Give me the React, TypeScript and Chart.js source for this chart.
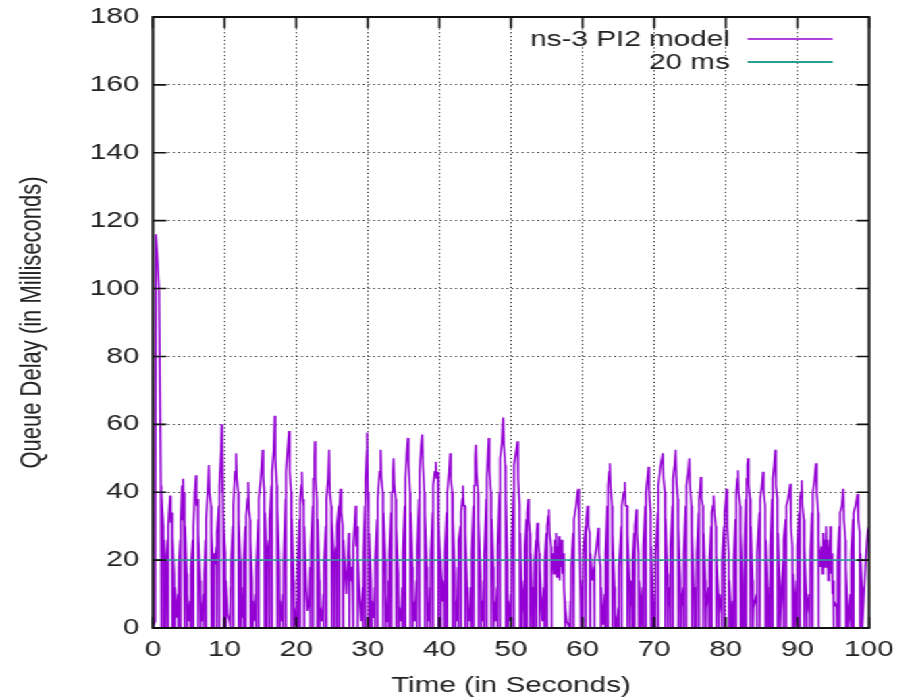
import React, { useEffect, useRef } from 'react';
import { Chart, registerables } from 'chart.js';

Chart.register(...registerables);

// ---- labels / ticks ----
const X_TITLE = 'Time (in Seconds)';
const Y_TITLE = 'Queue Delay (in Milliseconds)';
const SERIES_LABEL = 'ns-3 PI2 model';
const TARGET_LABEL = '20 ms';
const TARGET_VALUE = 20;
const X_TICKS = [0, 10, 20, 30, 40, 50, 60, 70, 80, 90, 100];
const Y_TICKS = [0, 20, 40, 60, 80, 100, 120, 140, 160, 180];

// ---- queue delay samples [time s, delay ms] ----
const seg00: [number, number][] = [
  [0, 0], [0.3, 2], [0.4, 116], [0.6, 110], [0.85, 100], [1.1, 42], [1.15, 0], [1.2, 40], [1.45, 30], [1.5, 0], [1.55, 26], [1.75, 16], [1.8, 0], [1.85, 18],
  [2.05, 26], [2.1, 0], [2.15, 30], [2.3, 36], [2.4, 39], [2.5, 31], [2.65, 34], [2.7, 0], [2.75, 27], [2.95, 16], [3.0, 0], [3.05, 12], [3.3, 3],
  [3.5, 10], [3.55, 0], [3.6, 18], [3.8, 26], [3.85, 0], [3.9, 32], [4.05, 42], [4.15, 32], [4.2, 44], [4.3, 31], [4.4, 40], [4.45, 0], [4.5, 30], [4.7, 16], [4.75, 0], [4.8, 10], [5.0, 2],
  [5.2, 8], [5.25, 0], [5.3, 18], [5.55, 26], [5.6, 0], [5.65, 30], [5.85, 40], [6.0, 45], [6.1, 36], [6.25, 38], [6.3, 0], [6.35, 28], [6.6, 14], [6.65, 0], [6.7, 8], [6.9, 2],
  [7.05, 10], [7.1, 0], [7.15, 16], [7.35, 26], [7.4, 0], [7.45, 32], [7.65, 41], [7.8, 48], [7.9, 40], [8.1, 36], [8.15, 0], [8.2, 28], [8.4, 18], [8.45, 0], [8.5, 22], [8.7, 20],
  [8.85, 24], [8.9, 0], [8.95, 28], [9.2, 36], [9.25, 0], [9.3, 42], [9.5, 52], [9.6, 60], [9.65, 40], [9.7, 55], [9.8, 32], [9.85, 0], [9.9, 30], [10.1, 22], [10.15, 0], [10.2, 14], [10.45, 4],
];
const seg10: [number, number][] = [
  [10.7, 2], [10.8, 12], [10.85, 0], [10.9, 20], [11.15, 30], [11.2, 0], [11.25, 36], [11.45, 46], [11.6, 51.5], [11.7, 44], [11.9, 40], [11.95, 0], [12.0, 32], [12.2, 20], [12.25, 0], [12.3, 10], [12.5, 3],
  [12.6, 12], [12.65, 0], [12.7, 20], [12.9, 30], [12.95, 0], [13.0, 33], [13.2, 38], [13.3, 43], [13.4, 35], [13.55, 32], [13.6, 0], [13.65, 26], [13.85, 14], [13.9, 0], [13.95, 8], [14.1, 2],
  [14.35, 10], [14.4, 0], [14.45, 18], [14.7, 32], [14.75, 0], [14.8, 38], [15.05, 44], [15.3, 52.5], [15.4, 45], [15.55, 40], [15.6, 0], [15.65, 34], [15.85, 22], [15.9, 0], [15.95, 20],
  [16.2, 26], [16.25, 0], [16.3, 32], [16.55, 42], [16.6, 0], [16.65, 46], [16.85, 52], [17.0, 62.5], [17.1, 50], [17.3, 42], [17.35, 0], [17.4, 36], [17.65, 18], [17.7, 0], [17.75, 8], [17.95, 2],
  [18.15, 10], [18.2, 0], [18.25, 20], [18.5, 38], [18.55, 0], [18.6, 46], [18.85, 54], [19.0, 58], [19.1, 46], [19.3, 40], [19.35, 0], [19.4, 32], [19.65, 14], [19.7, 0], [19.75, 6], [19.95, 1],
];
const seg20: [number, number][] = [
  [20.1, 8], [20.15, 0], [20.2, 18], [20.45, 32], [20.5, 0], [20.55, 38], [20.7, 42], [20.8, 46], [20.9, 38], [21.05, 36], [21.1, 0], [21.15, 30], [21.4, 12], [21.6, 5], [21.8, 8],
  [21.95, 18], [22.0, 0], [22.05, 24], [22.3, 36], [22.35, 0], [22.4, 44], [22.55, 50], [22.6, 55], [22.7, 44], [22.9, 38], [22.95, 0], [23.0, 32], [23.25, 14], [23.3, 0], [23.35, 6], [23.6, 2],
  [23.8, 10], [23.85, 0], [23.9, 20], [24.15, 30], [24.2, 0], [24.25, 38], [24.45, 44], [24.6, 52.5], [24.7, 40], [24.9, 36], [24.95, 0], [25.0, 32], [25.25, 22], [25.3, 0], [25.35, 18],
  [25.6, 24], [25.65, 0], [25.7, 30], [25.95, 36], [26.0, 0], [26.05, 36], [26.2, 41], [26.3, 34], [26.5, 30], [26.55, 0], [26.6, 26], [26.8, 18], [27.0, 10], [27.1, 15],
  [27.35, 28], [27.4, 0], [27.45, 22], [27.7, 14], [27.8, 18], [27.9, 10], [27.95, 0], [28.0, 24], [28.2, 32], [28.3, 36], [28.4, 24], [28.55, 30], [28.6, 0], [28.65, 20], [28.9, 8], [29.1, 2],
  [29.3, 12], [29.35, 0], [29.4, 22], [29.6, 36], [29.65, 0], [29.7, 44], [29.85, 52], [29.9, 57.5], [30.0, 40], [30.1, 34], [30.15, 0], [30.2, 28], [30.45, 14], [30.5, 0], [30.55, 8],
];
const seg30: [number, number][] = [
  [30.8, 3], [30.95, 12], [31.0, 0], [31.05, 20], [31.3, 32], [31.35, 0], [31.4, 38], [31.65, 46], [31.8, 52.5], [31.9, 44], [32.1, 40], [32.15, 0], [32.2, 34], [32.45, 20], [32.5, 0], [32.55, 10], [32.75, 2],
  [32.9, 14], [32.95, 0], [33.0, 22], [33.25, 34], [33.3, 0], [33.35, 40], [33.5, 46], [33.6, 50], [33.7, 42], [33.9, 38], [33.95, 0], [34.0, 30], [34.25, 16], [34.3, 0], [34.35, 6], [34.6, 2],
  [34.8, 12], [34.85, 0], [34.9, 22], [35.15, 36], [35.2, 0], [35.25, 44], [35.45, 52], [35.6, 56], [35.7, 48], [35.9, 40], [35.95, 0], [36.0, 34], [36.25, 18], [36.3, 0], [36.35, 8], [36.55, 2],
  [36.8, 14], [36.85, 0], [36.9, 24], [37.15, 38], [37.2, 0], [37.25, 46], [37.45, 54], [37.6, 57], [37.7, 48], [37.9, 40], [37.95, 0], [38.0, 34], [38.25, 18], [38.3, 0], [38.35, 8], [38.55, 2],
  [38.7, 12], [38.75, 0], [38.8, 22], [39.05, 34], [39.1, 0], [39.15, 42], [39.35, 46], [39.5, 49], [39.6, 44], [39.8, 46], [39.85, 0], [39.9, 32], [40.15, 20], [40.2, 0], [40.25, 18],
];
const seg40: [number, number][] = [
  [40.5, 8], [40.65, 14], [40.7, 0], [40.75, 22], [41.0, 34], [41.05, 0], [41.1, 40], [41.35, 46], [41.5, 51.5], [41.6, 44], [41.8, 40], [41.85, 0], [41.9, 32], [42.15, 16], [42.2, 0], [42.25, 8], [42.45, 2],
  [42.6, 18], [42.65, 0], [42.7, 26], [42.95, 30], [43.0, 0], [43.05, 34], [43.2, 38], [43.3, 42], [43.4, 36], [43.55, 36], [43.6, 0], [43.65, 28], [43.9, 12], [43.95, 0], [44.0, 6], [44.2, 2],
  [44.4, 12], [44.45, 0], [44.5, 22], [44.75, 36], [44.8, 0], [44.85, 42], [45.0, 50], [45.1, 54], [45.2, 46], [45.4, 40], [45.45, 0], [45.5, 32], [45.75, 16], [45.8, 0], [45.85, 8], [46.05, 2],
  [46.2, 14], [46.25, 0], [46.3, 22], [46.55, 38], [46.6, 0], [46.65, 44], [46.8, 52], [46.9, 56], [47.0, 46], [47.2, 40], [47.25, 0], [47.3, 32], [47.55, 18], [47.6, 0], [47.65, 8], [47.85, 2],
  [48.05, 12], [48.1, 0], [48.15, 24], [48.4, 40], [48.45, 0], [48.5, 50], [48.7, 54], [48.9, 62], [49.0, 54], [49.2, 48], [49.25, 0], [49.3, 40], [49.5, 20], [49.55, 0], [49.6, 8], [49.8, 2],
];
const seg50: [number, number][] = [
  [50.0, 10], [50.05, 0], [50.1, 24], [50.35, 40], [50.4, 0], [50.45, 48], [50.7, 52], [50.9, 55], [51.0, 44], [51.2, 36], [51.25, 0], [51.3, 28], [51.5, 10], [51.55, 0], [51.6, 4],
  [51.85, 14], [51.9, 0], [51.95, 24], [52.15, 32], [52.2, 0], [52.25, 34], [52.4, 38], [52.5, 32], [52.65, 28], [52.7, 0], [52.75, 22], [52.95, 10], [53.0, 0], [53.05, 4],
  [53.2, 12], [53.25, 0], [53.3, 20], [53.5, 26], [53.55, 0], [53.6, 28], [53.7, 31], [53.8, 26], [53.95, 22], [54.0, 0], [54.05, 18], [54.25, 8], [54.4, 2],
  [54.6, 12], [54.65, 0], [54.7, 20], [54.95, 28], [55.0, 0], [55.05, 30], [55.2, 33], [55.3, 35], [55.4, 28], [55.6, 24], [55.65, 0], [55.7, 18], [55.85, 22],
  [56.0, 16], [56.1, 26], [56.2, 18], [56.3, 28], [56.4, 15], [56.5, 24], [56.6, 17], [56.7, 27], [56.8, 14], [56.9, 25], [57.0, 18], [57.1, 26], [57.2, 16], [57.3, 22], [57.4, 12], [57.5, 8], [57.55, 0], [57.6, 6], [57.8, 2],
  [58.2, 0], [58.3, 8], [58.35, 0], [58.4, 18], [58.7, 28], [58.75, 0], [58.8, 32], [59.1, 36], [59.3, 40], [59.4, 41], [59.5, 32], [59.7, 10], [59.75, 0], [59.8, 2],
];
const seg60: [number, number][] = [
  [60.0, 14], [60.05, 0], [60.1, 22], [60.4, 30], [60.45, 0], [60.5, 32], [60.7, 36], [60.8, 30], [61.0, 28], [61.05, 0], [61.1, 22], [61.35, 14],
  [61.6, 18], [61.65, 0], [61.7, 20], [61.95, 24], [62.2, 29.5], [62.3, 22], [62.5, 18], [62.55, 0], [62.6, 12], [62.8, 4], [62.9, 1],
  [63.1, 10], [63.15, 0], [63.2, 22], [63.45, 36], [63.5, 0], [63.55, 42], [63.7, 46], [63.8, 48.5], [63.9, 42], [64.1, 36], [64.15, 0], [64.2, 28], [64.45, 12], [64.5, 0], [64.55, 4], [64.75, 0],
  [65.0, 6], [65.05, 0], [65.1, 18], [65.4, 30], [65.45, 0], [65.5, 36], [65.75, 40], [65.9, 43], [66.0, 36], [66.2, 36], [66.25, 0], [66.3, 28], [66.55, 14], [66.6, 0], [66.65, 6],
  [66.9, 14], [66.95, 0], [67.0, 20], [67.2, 28], [67.25, 0], [67.3, 30], [67.5, 35], [67.6, 28], [67.8, 22], [67.85, 0], [67.9, 14], [68.1, 8], [68.15, 0],
  [68.4, 12], [68.45, 0], [68.5, 24], [68.75, 36], [68.8, 0], [68.85, 40], [69.05, 44], [69.2, 47.5], [69.3, 40], [69.5, 34], [69.55, 0], [69.6, 24], [69.8, 10], [69.85, 0], [69.9, 4],
];
const seg70: [number, number][] = [
  [70.1, 8], [70.15, 0], [70.2, 22], [70.5, 34], [70.55, 0], [70.6, 42], [70.9, 48], [71.2, 51.5], [71.3, 44], [71.5, 40], [71.55, 0], [71.6, 32], [71.85, 16], [71.9, 0], [71.95, 6],
  [72.2, 12], [72.25, 0], [72.3, 24], [72.55, 36], [72.6, 0], [72.65, 44], [72.85, 48], [73.0, 52.5], [73.1, 44], [73.3, 38], [73.35, 0], [73.4, 30], [73.65, 14], [73.7, 0], [73.75, 6],
  [74.05, 12], [74.1, 0], [74.15, 22], [74.4, 36], [74.45, 0], [74.5, 42], [74.75, 46], [74.9, 50], [75.0, 42], [75.2, 36], [75.25, 0], [75.3, 28], [75.55, 12], [75.6, 0], [75.65, 4],
  [75.85, 12], [75.9, 0], [75.95, 22], [76.2, 34], [76.25, 0], [76.3, 38], [76.45, 42], [76.5, 44.5], [76.6, 38], [76.8, 36], [76.85, 0], [76.9, 28], [77.15, 14], [77.2, 0], [77.25, 6],
  [77.6, 12], [77.65, 0], [77.7, 20], [77.95, 30], [78.0, 0], [78.05, 34], [78.2, 36], [78.3, 39], [78.4, 34], [78.6, 30], [78.65, 0], [78.7, 22], [78.95, 10], [79.0, 0], [79.05, 4],
  [79.4, 10], [79.45, 0], [79.5, 20], [79.75, 30], [79.8, 0], [79.85, 34], [80.0, 38], [80.1, 41], [80.2, 30], [80.4, 22], [80.45, 0], [80.5, 14], [80.7, 6], [80.75, 0],
];
const seg80: [number, number][] = [
  [81.0, 8], [81.05, 0], [81.1, 20], [81.35, 32], [81.4, 0], [81.45, 40], [81.6, 44], [81.7, 46.5], [81.8, 40], [82.0, 36], [82.05, 0], [82.1, 28], [82.3, 14], [82.35, 0],
  [82.5, 10], [82.55, 0], [82.6, 24], [82.8, 38], [82.85, 0], [82.9, 44], [83.0, 48], [83.1, 50], [83.2, 42], [83.4, 38], [83.45, 0], [83.5, 30], [83.75, 14], [83.8, 0], [83.85, 6],
  [84.3, 10], [84.35, 0], [84.4, 22], [84.7, 34], [84.75, 0], [84.8, 38], [85.05, 42], [85.2, 46], [85.3, 40], [85.5, 36], [85.55, 0], [85.6, 26], [85.85, 12], [85.9, 0], [85.95, 4],
  [86.1, 10], [86.15, 0], [86.2, 24], [86.45, 38], [86.5, 0], [86.55, 44], [86.75, 48], [86.9, 52.5], [87.0, 42], [87.2, 38], [87.25, 0], [87.3, 28], [87.55, 12], [87.6, 0], [87.65, 4],
  [88.0, 20], [88.05, 0], [88.1, 26], [88.35, 32], [88.4, 0], [88.45, 36], [88.7, 38], [89.0, 42.5], [89.1, 30], [89.3, 24], [89.35, 0], [89.4, 16], [89.6, 8], [89.65, 0],
];
const seg90: [number, number][] = [
  [89.9, 14], [89.95, 0], [90.0, 24], [90.25, 34], [90.3, 0], [90.35, 38], [90.5, 40], [90.6, 43.5], [90.7, 36], [90.9, 32], [90.95, 0], [91.0, 24], [91.25, 10], [91.3, 0], [91.35, 4],
  [91.7, 10], [91.75, 0], [91.8, 22], [92.05, 34], [92.1, 0], [92.15, 40], [92.4, 44], [92.6, 48.5], [92.7, 40], [92.9, 34], [92.95, 0], [93.0, 26], [93.2, 18],
  [93.4, 24], [93.5, 16], [93.6, 28], [93.7, 18], [93.8, 26], [93.9, 20], [94.0, 30], [94.1, 18], [94.2, 26], [94.3, 14], [94.4, 24], [94.5, 20], [94.6, 30], [94.7, 16], [94.8, 22], [94.9, 10], [95.0, 14], [95.05, 0], [95.1, 8],
  [95.5, 6], [95.55, 0], [95.6, 20], [95.85, 30], [95.9, 0], [95.95, 34], [96.2, 36], [96.4, 41], [96.5, 32], [96.7, 26], [96.75, 0], [96.8, 18], [97.0, 6], [97.05, 0],
  [97.4, 10], [97.45, 0], [97.5, 22], [97.75, 32], [97.8, 0], [97.85, 34], [98.1, 36], [98.4, 39.5], [98.5, 32], [98.7, 28], [98.75, 0], [98.8, 22], [99.0, 12], [99.05, 0], [99.3, 10], [99.6, 22], [99.8, 28], [100, 26],
];

const SEGMENTS = [seg00, seg10, seg20, seg30, seg40, seg50, seg60, seg70, seg80, seg90];

// ---- style ----
const FONT = "'Liberation Sans', Arial, Helvetica, sans-serif";
const TEXT_COLOR = '#222222';
const PURPLE = '#9400d3';
const TEAL = '#2a9d96';
const STRETCH = 1.35; // reference picture is horizontally stretched
const CW = 675;
const CH = 700;
const PLOT_TOP = 17;
const PLOT_BOTTOM = 628;
const PLOT_LEFT = 113.3;
const PLOT_RIGHT = 643.7;

const framePlugin = {
  id: 'gnuplotFrame',
  afterDraw(chart: any) {
    const { ctx, chartArea: a, scales } = chart;
    ctx.save();
    ctx.strokeStyle = '#111';
    ctx.lineWidth = 2;
    ctx.strokeRect(a.left, a.top, a.right - a.left, a.bottom - a.top);
    ctx.lineWidth = 1.6;
    ctx.beginPath();
    for (const v of Y_TICKS) {
      const y = scales.y.getPixelForValue(v);
      ctx.moveTo(a.left, y); ctx.lineTo(a.left + 10, y);
      ctx.moveTo(a.right, y); ctx.lineTo(a.right - 9, y);
    }
    for (const v of X_TICKS) {
      const x = scales.x.getPixelForValue(v);
      ctx.moveTo(x, a.top); ctx.lineTo(x, a.top + 11);
      ctx.moveTo(x, a.bottom); ctx.lineTo(x, a.bottom - 11);
    }
    ctx.stroke();

    // key (legend) inside the plot, gnuplot style
    ctx.font = `22px ${FONT}`;
    ctx.fillStyle = TEXT_COLOR;
    ctx.textAlign = 'right';
    ctx.textBaseline = 'middle';
    const tx = a.right - 103;
    const rows: [string, string, number][] = [
      [SERIES_LABEL, PURPLE, a.top + 22],
      [TARGET_LABEL, TEAL, a.top + 45],
    ];
    for (const [label, color, y] of rows) {
      ctx.fillText(label, tx, y + 1);
      ctx.strokeStyle = color;
      ctx.lineWidth = label === TARGET_LABEL ? 2.2 : 1.3;
      ctx.beginPath();
      ctx.moveTo(a.right - 90, y);
      ctx.lineTo(a.right - 27, y);
      ctx.stroke();
    }
    ctx.restore();
  },
};

export default function App() {
  const ref = useRef<HTMLCanvasElement | null>(null);

  useEffect(() => {
    if (!ref.current) return;
    Chart.defaults.font.family = FONT;
    Chart.defaults.font.size = 22;
    Chart.defaults.color = TEXT_COLOR;

    const seriesData = SEGMENTS.flat().map(([x, y]) => ({ x, y }));
    const targetData = [{ x: 0, y: TARGET_VALUE }, { x: 100, y: TARGET_VALUE }];
    const grid = { drawTicks: false, color: 'rgba(0,0,0,0.85)', lineWidth: 1 };
    const border = { display: false, dash: [1.2, 2.6] };

    const chart = new Chart(ref.current, {
      type: 'line',
      data: {
        datasets: [
          {
            label: TARGET_LABEL,
            data: targetData,
            borderColor: TEAL,
            borderWidth: 1.5,
            pointRadius: 0,
            order: 0,
          },
          {
            label: SERIES_LABEL,
            data: seriesData,
            borderColor: PURPLE,
            borderWidth: 1.5,
            pointRadius: 0,
            tension: 0,
            order: 1,
          },
        ],
      },
      options: {
        animation: false,
        responsive: false,
        devicePixelRatio: 1,
        parsing: false,
        normalized: true,
        layout: { padding: { top: PLOT_TOP, right: CW - PLOT_RIGHT, left: 0, bottom: 0 } },
        plugins: { legend: { display: false }, tooltip: { enabled: false } },
        scales: {
          x: {
            type: 'linear',
            min: 0,
            max: 100,
            afterFit: (s: any) => { s.height = CH - PLOT_BOTTOM; s.paddingLeft = 0; s.paddingRight = 0; },
            afterBuildTicks: (s: any) => { s.ticks = X_TICKS.map((v) => ({ value: v })); },
            ticks: { padding: 9, maxRotation: 0, autoSkip: false, color: TEXT_COLOR },
            grid,
            border,
            title: { display: true, text: X_TITLE, color: TEXT_COLOR, padding: { top: 0, bottom: 1 }, font: { size: 22 } },
          },
          y: {
            type: 'linear',
            min: 0,
            max: 180,
            afterFit: (s: any) => { s.width = PLOT_LEFT; s.paddingTop = 0; s.paddingBottom = 0; },
            afterBuildTicks: (s: any) => { s.ticks = Y_TICKS.map((v) => ({ value: v })); },
            ticks: { padding: 10, color: TEXT_COLOR },
            grid,
            border,
            title: { display: true, text: Y_TITLE, color: TEXT_COLOR, padding: { top: 11, bottom: 0 }, font: { size: 22 } },
          },
        },
      },
      plugins: [framePlugin],
    } as any);
    return () => chart.destroy();
  }, []);

  return (
    <div
      style={{
        position: 'absolute',
        left: 0,
        top: 0,
        width: CW,
        height: CH,
        transform: `scaleX(${STRETCH})`,
        transformOrigin: '0 0',
        background: '#fff',
      }}
    >
      <canvas ref={ref} width={CW} height={CH} style={{ display: 'block', width: CW, height: CH }} />
    </div>
  );
}
